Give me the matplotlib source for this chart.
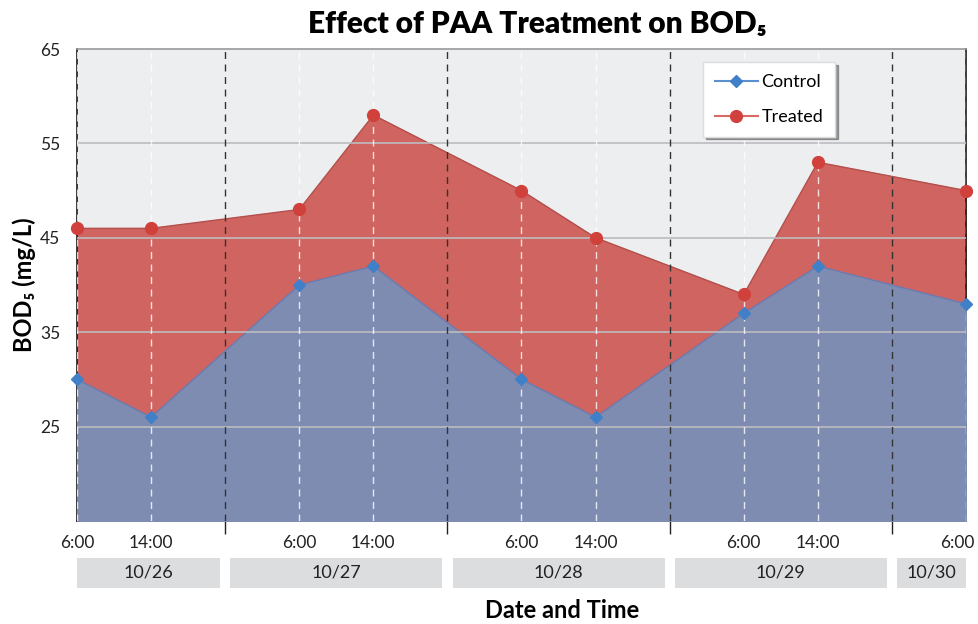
import matplotlib.pyplot as plt
from matplotlib.patches import Rectangle
from matplotlib.lines import Line2D
from matplotlib.transforms import ScaledTranslation

plt.rcParams['font.family'] = ['Lato', 'DejaVu Sans']

# Data (hours counted from 10/26 0:00)
hours = [6, 14, 30, 38, 54, 62, 78, 86, 102]
time_labels = ['6:00', '14:00', '6:00', '14:00', '6:00', '14:00', '6:00', '14:00', '6:00']
control = [30, 26, 40, 42, 30, 26, 37, 42, 38]
treated = [46, 46, 48, 58, 50, 45, 39, 53, 50]
day_labels = ['10/26', '10/27', '10/28', '10/29', '10/30']
day_bounds = [22, 46, 70, 94]

ymin, ymax = 15, 65

fig = plt.figure(figsize=(9.79, 6.24), dpi=100)
ax = fig.add_axes([77/979, 103/624, 889/979, 472/624])
ax.set_facecolor('#eceef0')

# Fills
ax.fill_between(hours, treated, ymin, color='#cf6461', zorder=1)
ax.plot(hours, treated, color='#b4504c', lw=1, zorder=2)
ax.fill_between(hours, control, ymin, color='#7f8cb2', zorder=3)
ax.plot(hours, control, color='#6a7bb0', lw=1, zorder=4)

# Grid
for yv in [25, 35, 45, 55]:
    ax.axhline(yv, color='#bcbcc0', lw=1.2, zorder=5)
for xv in hours:
    ax.axvline(xv, color='white', lw=1, ls=(0, (5, 4)), alpha=0.8, zorder=5)
for xv in day_bounds:
    ax.axvline(xv, color='#333333', lw=1, ls=(0, (5, 4)), zorder=5)

# Markers
ax.plot(hours, treated, 'o', color='#d0413c', ms=8.5, zorder=7, clip_on=False)
ax.plot(hours, control, 'D', color='#3f80c8', ms=6.5, zorder=7, clip_on=False)

ax.set_xlim(hours[0], hours[-1])
ax.set_ylim(ymin, ymax)
ax.set_yticks([25, 35, 45, 55, 65])
ax.tick_params(axis='y', length=0, labelsize=12.5, pad=12, labelcolor='#222222')
ax.set_xticks(hours)
ax.set_xticklabels(time_labels)
ax.set_xticks(day_bounds, minor=True)
ax.tick_params(axis='x', which='major', length=0, labelsize=12.5, pad=10, labelcolor='#222222')
ax.tick_params(axis='x', which='minor', length=9, width=1, color='#222222', direction='out')
last = ax.get_xticklabels()[-1]
last.set_transform(last.get_transform() + ScaledTranslation(-6/72, 0, fig.dpi_scale_trans))

for s in ['left', 'bottom', 'right']:
    ax.spines[s].set_color('#1a1a1a')
    ax.spines[s].set_linewidth(1.2)
ax.spines['top'].set_color('#999999')
ax.spines['top'].set_linewidth(1.2)

# Date boxes
trans = ax.get_xaxis_transform()
edges = [hours[0]] + day_bounds + [hours[-1]]
for i, lab in enumerate(day_labels):
    x0 = edges[i] + (0 if i == 0 else 0.55)
    x1 = edges[i + 1] - (0 if i == len(day_labels) - 1 else 0.55)
    ax.add_patch(Rectangle((x0, -0.142), x1 - x0, 0.064, transform=trans,
                           facecolor='#dcdddf', edgecolor='none', clip_on=False))
    ax.text((x0 + x1) / 2, -0.11, lab, transform=trans, ha='center', va='center',
            fontsize=13, color='#222222')

# Legend
hc = Line2D([], [], color='#5b8fd0', marker='D', mfc='#3f80c8', mec='#3f80c8', ms=6.5, lw=1.5)
ht = Line2D([], [], color='#d86a66', marker='o', mfc='#d0413c', mec='#d0413c', ms=8.5, lw=1.5)
leg = ax.legend([hc, ht], ['Control', 'Treated'], loc='upper left',
                bbox_to_anchor=(0.704, 0.972), fontsize=13, frameon=True,
                fancybox=False, shadow=True, handlelength=2.4, labelspacing=1.05,
                borderpad=0.65, handletextpad=0.2, borderaxespad=0)
leg.get_frame().set_edgecolor('#dddddd')
leg.get_frame().set_facecolor('white')
leg.set_zorder(10)

fig.text(537/979, 1 - 24/624, 'Effect of PAA Treatment on BOD\u2085', ha='center', va='center',
         fontsize=21.5, fontweight='heavy')
fig.text(562/979, 1 - 610/624, 'Date and Time', ha='center', va='center',
         fontsize=17, fontweight='bold')
ax.set_ylabel('BOD\u2085 (mg/L)', fontsize=17, fontweight='bold', labelpad=3)

fig.savefig('out.png', dpi=100)
